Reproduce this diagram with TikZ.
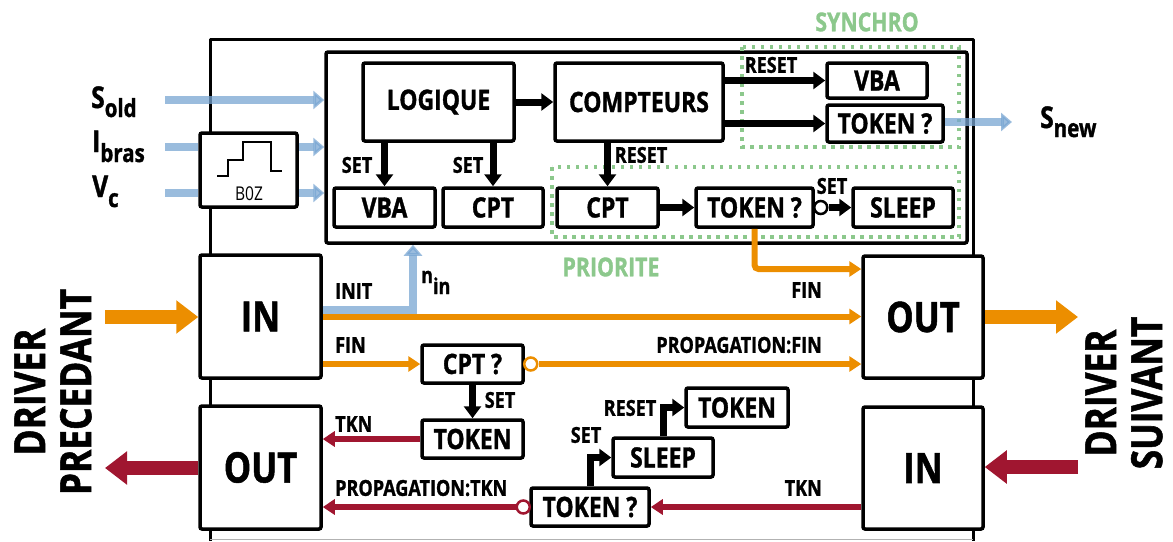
\documentclass[tikz,border=0pt]{standalone}
\usepackage{fontspec}
\setmainfont{Open Sans}[FakeStretch=0.82, BoldFeatures={FakeBold=1.2}]
\usetikzlibrary{arrows.meta,calc}
\definecolor{sigblue}{RGB}{120,165,210}
\definecolor{orng}{RGB}{236,142,0}
\definecolor{dred}{RGB}{160,22,48}
\definecolor{sgreen}{RGB}{140,200,140}
\tikzset{
  box/.style={draw, line width=3.5pt, rounded corners=2pt, fill=white, inner sep=0pt, font=\bfseries\fontsize{28}{30}\selectfont},
  bigbox/.style={box, font=\bfseries\fontsize{42}{44}\selectfont, minimum width=121pt, minimum height=123pt},
  lbl/.style={font=\bfseries\fontsize{22}{24}\selectfont, inner sep=0pt},
  sig/.style={font=\bfseries\fontsize{30}{30}\selectfont, inner sep=0pt},
  blk/.style={draw=black, line width=7pt, -{Triangle[length=12pt,width=17pt]}},
  orgl/.style={draw=orng, line width=6pt, -{Triangle[length=12pt,width=15pt]}},
  redl/.style={draw=dred, line width=6pt, -{Triangle[length=12pt,width=15pt]}},
  blu/.style={draw=sigblue, draw opacity=.75, fill opacity=.75, line width=8pt, -{Triangle[length=11pt,width=18pt]}},
  fat/.style={line width=14pt, -{Triangle[length=22pt,width=32pt]}},
  neg/.style={circle, draw, line width=2.5pt, fill=white, inner sep=0pt, minimum size=13pt},
  dotbox/.style={draw=sgreen, line width=3.5pt, dash pattern=on 3.5pt off 5.5pt},
  grn/.style={text=sgreen, font=\bfseries\fontsize{26}{26}\selectfont, inner sep=0pt},
  drv/.style={rotate=90, align=center, inner sep=0pt, font=\bfseries\fontsize{43}{46}\selectfont}
}
\begin{document}
\begin{tikzpicture}[x=1pt,y=-1pt]
\useasboundingbox (0,0) rectangle (1173,541);
% outer frame
\draw[line width=3pt, line join=round] (210,541) -- (210,39) -- (973,39) -- (973,541);
\draw[gray!60, line width=1.2pt] (210,539.5) -- (973,539.5);
% inner box
\node[draw, line width=3.5pt, rounded corners=2pt, minimum width=641pt, minimum height=191pt, inner sep=0pt] (core) at (646.5,147.5) {};
% dotted groups
\draw[dotbox] (742,47) rectangle (959,147);
\draw[dotbox] (552,167) rectangle (959,237);
\node[grn] (synchro) at (867,22) {SYNCHRO};
\node[grn] (priorite) at (611,267) {PRIORITE};

% boxes top
\node[box, minimum width=151pt, minimum height=78pt] (logique) at (438.5,102) {LOGIQUE};
\node[box, minimum width=168pt, minimum height=78pt] (compteurs) at (639,102) {COMPTEURS};
\node[box, minimum width=101pt, minimum height=39pt] (vbaL) at (384.5,207.5) {VBA};
\node[box, minimum width=100pt, minimum height=39pt] (cptL) at (493,207.5) {CPT};
\node[box, minimum width=101pt, minimum height=39pt] (cptP) at (607.5,207.5) {CPT};
\node[box, minimum width=117pt, minimum height=39pt] (tokP) at (754.5,207.5) {TOKEN ?};
\node[box, minimum width=100pt, minimum height=39pt] (sleepP) at (903,207.5) {SLEEP};
\node[box, minimum width=100pt, minimum height=35pt] (vbaS) at (877,80.5) {VBA};
\node[box, minimum width=116pt, minimum height=37pt] (tokS) at (885,123.5) {TOKEN ?};
% BOZ
\node[box, minimum width=97pt, minimum height=74pt] (boz) at (248.5,170) {};
\node[inner sep=0pt, font=\fontsize{19}{19}\selectfont] (bozl) at (249,194) {B0Z};
\draw[line width=2.5pt] (217,176) -- (228,176) -- (228,160) -- (243,160) -- (243,142) -- (271,142) -- (271,171) -- (282,171);

% bottom boxes
\node[bigbox] (inL) at (260.5,316.5) {IN};
\node[bigbox] (outL) at (260.5,467.5) {OUT};
\node[bigbox, minimum width=120pt, minimum height=122pt] (outR) at (923,317) {OUT};
\node[bigbox, minimum width=120pt, minimum height=122pt] (inR) at (923,468) {IN};
\node[box, minimum width=101pt, minimum height=38pt] (cptQ) at (472.5,364) {CPT ?};
\node[box, minimum width=101pt, minimum height=38pt] (tokB) at (472.5,439) {TOKEN};
\node[box, minimum width=118pt, minimum height=38pt] (tokQ) at (590,507) {TOKEN ?};
\node[box, minimum width=100pt, minimum height=39pt] (sleepB) at (663,457.5) {SLEEP};
\node[box, minimum width=102pt, minimum height=39pt] (tokR) at (737,407.5) {TOKEN};

% black connectors
\draw[blk] (logique.east) -- (compteurs.west);
\draw[blk] (vbaL.north |- logique.south) -- (vbaL.north);
\draw[blk] (cptL.north |- logique.south) -- (cptL.north);
\draw[blk] (cptP.north |- compteurs.south) -- (cptP.north);
\draw[blk] (compteurs.east |- vbaS.west) -- (vbaS.west);
\draw[blk] (compteurs.east |- tokS.west) -- (tokS.west);
\draw[blk] (cptP.east) -- (tokP.west);
\node[neg] (negP) at ($(tokP.east)+(6,0)$) {};
\draw[blk] (negP.east) -- (sleepP.west);
\draw[blk] (cptQ.south) -- (tokB.north);
\draw[blk] (tokQ.north) |- (sleepB.west);
\draw[blk] (sleepB.north) |- (tokR.west);

% labels
\node[lbl] (l1) at (357,165) {SET};
\node[lbl] (l2) at (468,165) {SET};
\node[lbl] (l3) at (641,155) {RESET};
\node[lbl] (l4) at (771,65) {RESET};
\node[lbl] (l5) at (832,186) {SET};
\node[lbl, anchor=west] (l6) at (335,291) {INIT};
\node[lbl, anchor=west] (l7) at (335,345) {FIN};
\node[lbl, anchor=west] (l8) at (335,424) {TKN};
\node[lbl, anchor=west] (l9) at (335,488) {PROPAGATION:TKN};
\node[lbl, anchor=east] (l10) at (822,345) {PROPAGATION:FIN};
\node[lbl, anchor=east] (l11) at (822,290) {FIN};
\node[lbl, anchor=east] (l12) at (822,488) {TKN};
\node[lbl] (l13) at (500,400) {SET};
\node[lbl] (l14) at (630,408) {RESET};
\node[lbl] (l15) at (586,435) {SET};

% orange connectors
\coordinate (finR) at (863,269);
\draw[orgl, rounded corners=4pt] (tokP.south) |- (outR.west |- finR);
\draw[orgl] (inL.east) -- (outR.west |- inL.east);
\draw[orgl] (inL.east |- cptQ.west) -- (cptQ.west);
\node[neg, draw=orng] (negQ) at ($(cptQ.east)+(6,0)$) {};
\draw[orgl] (negQ.east) -- (outR.west |- cptQ.east);

% red connectors
\draw[redl] (tokB.west) -- (outL.east |- tokB.west);
\draw[redl] (inR.west |- tokQ.east) -- (tokQ.east);
\node[neg, draw=dred] (negT) at ($(tokQ.west)+(-6,0)$) {};
\draw[redl] (negT.west) -- (outL.east |- tokQ.west);

% blue signals
\coordinate (sold) at (165,100);
\coordinate (ibras) at (165,147);
\coordinate (vc) at (165,193);
\coordinate (snew) at (1012,122);
\coordinate (nin) at (413,310);
\draw[blu] (sold) -- (sold -| core.west);
\draw[blu,-] (ibras) -- (ibras -| boz.west);
\draw[blu] (ibras -| boz.east) -- (ibras -| core.west);
\draw[blu,-] (vc) -- (vc -| boz.west);
\draw[blu] (vc -| boz.east) -- (vc -| core.west);
\draw[blu] (tokS.east |- snew) -- (snew);
\draw[blu] (inL.east |- nin) -- (nin) -- (nin |- core.south);

\node[sig, anchor=base west] (lsold) at (91,108) {S\raisebox{-9pt}{\fontsize{25}{25}\selectfont old}};
\node[sig, anchor=base west] (libras) at (92,152) {I\raisebox{-10pt}{\fontsize{25}{25}\selectfont bras}};
\node[sig, anchor=base west] (lvc) at (92,197) {V\raisebox{-10pt}{\fontsize{25}{25}\selectfont c}};
\node[sig, anchor=base west] (lsnew) at (1040,128) {S\raisebox{-9pt}{\fontsize{25}{25}\selectfont new}};
\node[lbl, anchor=base west, font=\bfseries\fontsize{22}{22}\selectfont] (lnin) at (421,283) {n\raisebox{-11pt}{in}};

% thick driver arrows
\coordinate (precIn) at (105,317);
\coordinate (precOut) at (105,468);
\coordinate (suivOut) at (1078,317);
\coordinate (suivIn) at (1078,467);
\draw[fat, orng] (precIn) -- (inL.west |- precIn);
\draw[fat, dred] (outL.west |- precOut) -- (precOut);
\draw[fat, orng] (outR.east |- suivOut) -- (suivOut);
\draw[fat, dred] (suivIn) -- (inR.east |- suivIn);

\node[drv] (dprec) at (53,392) {DRIVER\\PRECEDANT};
\node[drv] (dsuiv) at (1124,393) {DRIVER\\SUIVANT};
\end{tikzpicture}
\end{document}
